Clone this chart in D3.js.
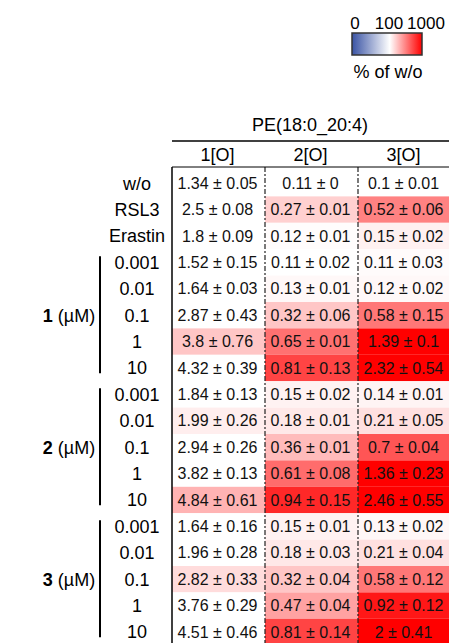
<!DOCTYPE html>
<html>
<head>
<meta charset="utf-8">
<script src="https://cdn.jsdelivr.net/npm/d3@7"></script>
<style>
  body { margin: 0; background: #fff; }
  svg { font-family: "Liberation Sans", Arial, sans-serif; }
</style>
</head>
<body>
<script>
// data
var title = "PE(18:0_20:4)";
var columns = ["1[O]", "2[O]", "3[O]"];
var rowLabels = ["w/o", "RSL3", "Erastin",
  "0.001", "0.01", "0.1", "1", "10",
  "0.001", "0.01", "0.1", "1", "10",
  "0.001", "0.01", "0.1", "1", "10"];
var groups = [{ name: "1", first: 3, last: 7 }, { name: "2", first: 8, last: 12 }, { name: "3", first: 13, last: 17 }];

// mean ± sd text per column
var col1 = ["1.34 ± 0.05", "2.5 ± 0.08", "1.8 ± 0.09",
  "1.52 ± 0.15", "1.64 ± 0.03", "2.87 ± 0.43", "3.8 ± 0.76", "4.32 ± 0.39",
  "1.84 ± 0.13", "1.99 ± 0.26", "2.94 ± 0.26", "3.82 ± 0.13", "4.84 ± 0.61",
  "1.64 ± 0.16", "1.96 ± 0.28", "2.82 ± 0.33", "3.76 ± 0.29", "4.51 ± 0.46"];
var col2 = ["0.11 ± 0", "0.27 ± 0.01", "0.12 ± 0.01",
  "0.11 ± 0.02", "0.13 ± 0.01", "0.32 ± 0.06", "0.65 ± 0.01", "0.81 ± 0.13",
  "0.15 ± 0.02", "0.18 ± 0.01", "0.36 ± 0.01", "0.61 ± 0.08", "0.94 ± 0.15",
  "0.15 ± 0.01", "0.18 ± 0.03", "0.32 ± 0.04", "0.47 ± 0.04", "0.81 ± 0.14"];
var col3 = ["0.1 ± 0.01", "0.52 ± 0.06", "0.15 ± 0.02",
  "0.11 ± 0.03", "0.12 ± 0.02", "0.58 ± 0.15", "1.39 ± 0.1", "2.32 ± 0.54",
  "0.14 ± 0.01", "0.21 ± 0.05", "0.7 ± 0.04", "1.36 ± 0.23", "2.46 ± 0.55",
  "0.13 ± 0.02", "0.21 ± 0.04", "0.58 ± 0.12", "0.92 ± 0.12", "2 ± 0.41"];

// % of w/o, estimated from each cell's colour
var pct1 = [100, 100, 100, 100, 100, 100, 300, 100, 100, 160, 100, 100, 370, 100, 100, 225, 100, 100];
var pct2 = [100, 265, 110, 100, 125, 300, 600, 760, 145, 180, 340, 620, 860, 145, 180, 300, 430, 760];
var pct3 = [100, 540, 150, 115, 125, 580, 1390, 2320, 140, 210, 700, 1360, 2460, 130, 210, 580, 920, 2000];

var legendTicks = [0, 100, 1000];

var width = 449, height = 643;

var svg = d3.select("body").append("svg")
  .attr("width", width)
  .attr("height", height);

var x = d3.scaleBand().domain(columns).range([172, 451]);
var y = d3.scaleBand().domain(d3.range(rowLabels.length)).range([170, 170 + 26.4 * rowLabels.length]);
var color = d3.scaleLinear().domain([0, 100, 1000]).range(["#3953a4", "#ffffff", "#ff0000"]).clamp(true);

var texts = [col1, col2, col3], pcts = [pct1, pct2, pct3];
var cells = [];
columns.forEach(function (c, j) {
  rowLabels.forEach(function (r, i) {
    cells.push({ col: c, row: i, text: texts[j][i], pct: pcts[j][i] });
  });
});

// cells
svg.append("g").selectAll("rect").data(cells).join("rect")
  .attr("x", function (d) { return x(d.col); })
  .attr("y", function (d) { return y(d.row); })
  .attr("width", x.bandwidth())
  .attr("height", y.bandwidth())
  .attr("fill", function (d) { return color(d.pct); });

svg.append("g").selectAll("text").data(cells).join("text")
  .attr("x", function (d) { return x(d.col) + x.bandwidth() / 2 - 1; })
  .attr("y", function (d) { return y(d.row) + y.bandwidth() / 2; })
  .attr("dy", "0.35em")
  .attr("text-anchor", "middle")
  .attr("font-size", 16)
  .attr("fill", "#111")
  .text(function (d) { return d.text; });

// dashed separators
svg.append("g").selectAll("line").data(columns.slice(1)).join("line")
  .attr("x1", function (d) { return x(d); })
  .attr("x2", function (d) { return x(d); })
  .attr("y1", 167)
  .attr("y2", height)
  .attr("stroke", "#222")
  .attr("stroke-width", 1.2)
  .attr("stroke-dasharray", "5,2,2,2");

// box and header rule
svg.append("line").attr("x1", 172).attr("x2", width).attr("y1", 141).attr("y2", 141)
  .attr("stroke", "#000").attr("stroke-width", 1.5);
svg.append("line").attr("x1", 172).attr("x2", width).attr("y1", 167).attr("y2", 167)
  .attr("stroke", "#000").attr("stroke-width", 1);
svg.append("line").attr("x1", 172).attr("x2", 172).attr("y1", 167).attr("y2", height)
  .attr("stroke", "#000").attr("stroke-width", 1.5);

svg.append("text").attr("x", 310).attr("y", 125).attr("dy", "0.35em")
  .attr("text-anchor", "middle").attr("font-size", 18).text(title);

svg.append("g").selectAll("text").data(columns).join("text")
  .attr("x", function (d) { return x(d) + x.bandwidth() / 2 - 1; })
  .attr("y", 155)
  .attr("dy", "0.35em")
  .attr("text-anchor", "middle")
  .attr("font-size", 18)
  .text(function (d) { return d; });

// row labels
svg.append("g").selectAll("text").data(rowLabels).join("text")
  .attr("x", 137)
  .attr("y", function (d, i) { return y(i) + y.bandwidth() / 2; })
  .attr("dy", "0.35em")
  .attr("text-anchor", "middle")
  .attr("font-size", 18)
  .text(function (d) { return d; });

// group brackets
svg.append("g").selectAll("line").data(groups).join("line")
  .attr("x1", 100).attr("x2", 100)
  .attr("y1", function (d) { return y(d.first) + 7; })
  .attr("y2", function (d) { return y(d.last) + y.bandwidth() - 8; })
  .attr("stroke", "#000")
  .attr("stroke-width", 2);

var gl = svg.append("g").selectAll("text").data(groups).join("text")
  .attr("x", 69)
  .attr("y", function (d) { return y(d.first + 2) + y.bandwidth() / 2; })
  .attr("dy", "0.35em")
  .attr("text-anchor", "middle")
  .attr("font-size", 18);
gl.append("tspan").attr("font-weight", "bold").text(function (d) { return d.name; });
gl.append("tspan").text(" (µM)");

// legend
var lx = d3.scaleLinear().domain([0, 1]).range([352, 422]);
var grad = svg.append("defs").append("linearGradient").attr("id", "lg");
[[0, "#3953a4"], [0.54, "#ffffff"], [1, "#ff0000"]].forEach(function (s) {
  grad.append("stop").attr("offset", s[0]).attr("stop-color", s[1]);
});
svg.append("rect").attr("x", lx(0)).attr("y", 33).attr("width", lx(1) - lx(0)).attr("height", 22)
  .attr("fill", "url(#lg)").attr("stroke", "#333").attr("stroke-width", 1.5);
var tickPos = [355, 389, 426];
svg.append("g").selectAll("text").data(legendTicks).join("text")
  .attr("x", function (d, i) { return tickPos[i]; })
  .attr("y", 29)
  .attr("text-anchor", "middle")
  .attr("font-size", 17)
  .text(function (d) { return d; });
svg.append("text").attr("x", 388).attr("y", 72).attr("dy", "0.35em")
  .attr("text-anchor", "middle").attr("font-size", 18).text("% of w/o");
</script>
</body>
</html>
